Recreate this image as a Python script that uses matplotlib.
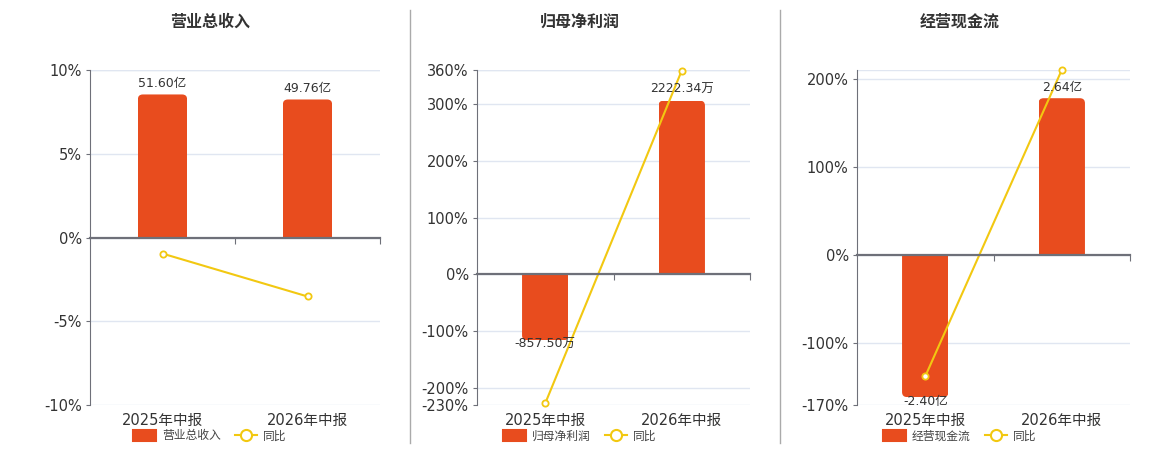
import matplotlib.pyplot as plt
from matplotlib.lines import Line2D
from matplotlib.patches import Patch, FancyBboxPatch

plt.rcParams['font.family'] = ['DejaVu Sans', 'Noto Sans CJK SC']

# data (bar heights are read in the axis units of each panel)
categories = ['2025年中报', '2026年中报']
titles = ['营业总收入', '归母净利润', '经营现金流']

rev_bars = [8.54, 8.24]
rev_labels = ['51.60亿', '49.76亿']
rev_yoy = [-0.96, -3.52]

profit_bars = [-116, 306]
profit_labels = ['-857.50万', '2222.34万']
profit_yoy = [-227, 359]

cash_bars = [-161, 178]
cash_labels = ['-2.40亿', '2.64亿']
cash_yoy = [-137.5, 210]

yticks = [[-10, -5, 0, 5, 10],
          [-230, -200, -100, 0, 100, 200, 300, 360],
          [-170, -100, 0, 100, 200]]
ylims = [(-10, 10), (-230, 360), (-170, 210)]

bar_color = '#E84C1E'
line_color = '#F2C811'
grid_color = '#E0E6F1'
axis_color = '#6E7079'
text_color = '#333333'

W, H = 1160, 450
fig = plt.figure(figsize=(W / 100, H / 100), dpi=100)

# axes boxes in pixels: left, right, top, bottom
boxes = [(90, 380, 70, 405), (477, 750, 70, 405), (857, 1130, 70, 405)]
centers = [210, 580, 960]

panels = [(rev_bars, rev_labels, rev_yoy),
          (profit_bars, profit_labels, profit_yoy),
          (cash_bars, cash_labels, cash_yoy)]


def round_bars(ax, container, radius_px, box):
    # swap plain rectangles for ones with rounded corners at the far end
    l, r, t, b = box
    y0, y1 = ax.get_ylim()
    xu = 2.0 / (r - l)
    yu = (y1 - y0) / (b - t)
    rad = radius_px * xu
    ext = radius_px * yu * 2
    for rect in container.patches:
        x, w = rect.get_x(), rect.get_width()
        ya, yb = rect.get_y(), rect.get_y() + rect.get_height()
        lo, hi = min(ya, yb), max(ya, yb)
        if rect.get_height() >= 0:
            lo -= ext
        else:
            hi += ext
        fb = FancyBboxPatch((x, lo), w, hi - lo,
                            boxstyle=f'round,pad=0,rounding_size={rad}',
                            mutation_aspect=yu / xu,
                            facecolor=rect.get_facecolor(), edgecolor='none',
                            zorder=rect.get_zorder())
        ax.add_patch(fb)
        fb.set_clip_path(rect)
        rect.set_visible(False)


for i, (bars, labels, yoy) in enumerate(panels):
    l, r, t, b = boxes[i]
    ax = fig.add_axes([l / W, 1 - b / H, (r - l) / W, (b - t) / H])
    x = list(range(len(categories)))
    ax.set_xlim(-0.5, 1.5)
    ax.set_ylim(*ylims[i])
    bc = ax.bar(x, bars, width=0.34, color=bar_color, zorder=2)
    round_bars(ax, bc, 5, boxes[i])
    ax.plot(x, yoy, color=line_color, lw=1.5, marker='o', ms=4.5,
            mfc='white', mec=line_color, mew=1.3, zorder=3, clip_on=False)
    for xi, v, s in zip(x, bars, labels):
        if v >= 0:
            ax.annotate(s, (xi, v), xytext=(0, 8), textcoords='offset points',
                        ha='center', va='center', fontsize=9, color=text_color, zorder=4)
        else:
            ax.annotate(s, (xi, v), xytext=(0, -3), textcoords='offset points',
                        ha='center', va='center', fontsize=9, color=text_color, zorder=4)

    ticks = yticks[i]
    ax.set_yticks(ticks)
    ax.set_yticklabels([f'{v}%' for v in ticks], fontsize=10.5, color=text_color)
    ax.tick_params(axis='y', length=3, color=axis_color, pad=3)
    for v in ticks + [ylims[i][1]]:
        ax.axhline(v, color=grid_color, lw=1, zorder=0)

    for s in ['top', 'right']:
        ax.spines[s].set_visible(False)
    ax.spines['left'].set_color(axis_color)
    ax.spines['bottom'].set_position(('data', 0))
    ax.spines['bottom'].set_color(axis_color)
    ax.spines['bottom'].set_linewidth(1.6)
    ax.spines['bottom'].set_zorder(5)
    ax.set_xticks([0.5, 1.5])
    ax.set_xticklabels(['', ''])
    ax.tick_params(axis='x', length=4, color=axis_color, direction='out')

    sec = ax.secondary_xaxis(0)
    sec.set_xticks(x)
    sec.set_xticklabels(categories, fontsize=10.5, color=text_color)
    sec.tick_params(length=0, pad=6)
    sec.spines['bottom'].set_visible(False)

    fig.text(centers[i] / W, 1 - 22 / H, titles[i], ha='center', va='center',
             fontsize=11.5, fontweight='bold', color=text_color)

    handles = [Patch(facecolor=bar_color, edgecolor=bar_color, lw=1.5,
                     joinstyle='round', label=titles[i]),
               Line2D([], [], color=line_color, lw=1.5, marker='o', ms=8,
                      mfc='white', mec=line_color, mew=1.5, label='同比')]
    fig.legend(handles=handles, loc='center', bbox_to_anchor=(centers[i] / W, 1 - 436 / H),
               ncol=2, frameon=False, fontsize=8.5, handlelength=1.9, handleheight=1.1,
               columnspacing=1.2, handletextpad=0.5, labelcolor='#444444')

for xs in [410, 780]:
    fig.add_artist(Line2D([xs / W, xs / W], [1 - 10 / H, 1 - 443 / H],
                          color='#AAAAAA', lw=1))

fig.savefig('out.png', dpi=100)
